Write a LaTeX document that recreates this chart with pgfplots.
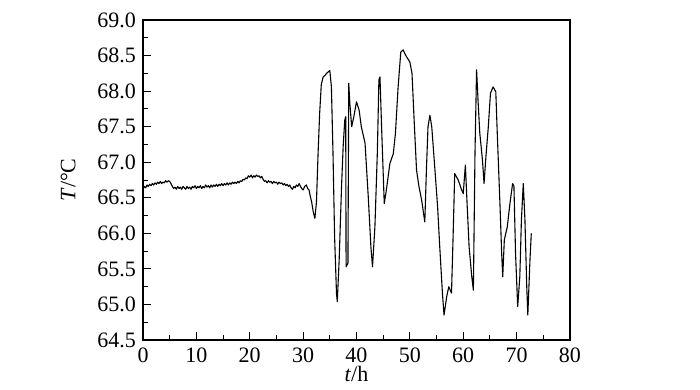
\documentclass[border=0pt]{standalone}
\usepackage{fontspec}
\setmainfont{Liberation Serif}
\usepackage{pgfplots}
\pgfplotsset{compat=1.18}
\begin{document}
\begin{tikzpicture}
\useasboundingbox (-71.5pt,-25pt) rectangle (278.5pt,170pt);
\begin{axis}[
  at={(0,0)}, anchor=south west,
  scale only axis, width=213.5pt, height=160pt,
  xmin=0, xmax=80, ymin=64.5, ymax=69.0,
  xtick={0,10,...,80}, ytick={64.5,65,...,69},
  minor x tick num=1, minor y tick num=1,
  xtick pos=bottom, ytick pos=left,
  tick align=inside,
  major tick length=4pt, minor tick length=2.5pt,
  axis line style={line width=0.6pt},
  every tick/.style={line width=0.5pt, black},
  /pgf/number format/assume math mode=true,
  yticklabel style={/pgf/number format/.cd, fixed, fixed zerofill, precision=1},
  ticklabel style={font=\fontsize{11}{13}\selectfont},
  label style={font=\fontsize{11}{13}\selectfont},
  xticklabel style={yshift=-0.5pt},
  xlabel={\textit{t}/h},
  ylabel={\textit{T}/°\kern-0.05em C},
  xlabel style={yshift=5pt},
  ylabel style={yshift=4pt},
]
\addplot[black, line width=0.55pt, line join=round] coordinates {
(0,66.62) (0.25,66.66) (0.5,66.64) (0.75,66.68) (1,66.66) (1.25,66.69) (1.5,66.67) (1.75,66.70)
(2,66.68) (2.25,66.71) (2.5,66.69) (2.75,66.72) (3,66.70) (3.25,66.73) (3.5,66.70) (3.75,66.72)
(4,66.71) (4.25,66.74) (4.5,66.72) (4.75,66.74) (5,66.73) (5.25,66.70) (5.5,66.66) (5.75,66.63)
(6,66.65) (6.25,66.62) (6.5,66.66) (6.75,66.63) (7,66.65) (7.25,66.62) (7.5,66.66) (7.75,66.64)
(8,66.62) (8.25,66.66) (8.5,66.63) (8.75,66.65) (9,66.62) (9.25,66.66) (9.5,66.64) (9.75,66.67)
(10,66.63) (10.25,66.66) (10.5,66.64) (10.75,66.67) (11,66.63) (11.25,66.66) (11.5,66.64) (11.75,66.68)
(12,66.65) (12.25,66.67) (12.5,66.64) (12.75,66.68) (13,66.65) (13.25,66.68) (13.5,66.66) (13.75,66.69)
(14,66.66) (14.25,66.69) (14.5,66.67) (14.75,66.70) (15,66.67) (15.25,66.70) (15.5,66.68) (15.75,66.71)
(16,66.68) (16.25,66.71) (16.5,66.69) (16.75,66.72) (17,66.70) (17.25,66.72) (17.5,66.70) (17.75,66.73)
(18,66.71) (18.25,66.74) (18.5,66.73) (18.75,66.76) (19,66.75) (19.25,66.78) (19.5,66.77) (19.75,66.81)
(20,66.79) (20.25,66.82) (20.5,66.78) (20.75,66.81) (21,66.79) (21.25,66.82) (21.5,66.80) (21.75,66.81)
(22,66.78) (22.25,66.80) (22.5,66.76) (22.75,66.73) (23,66.74) (23.25,66.71) (23.5,66.74) (23.75,66.72)
(24,66.73) (24.25,66.70) (24.5,66.73) (24.75,66.71) (25,66.72) (25.25,66.69) (25.5,66.72) (25.75,66.70)
(26,66.71) (26.25,66.68) (26.5,66.70) (26.75,66.67) (27,66.69) (27.25,66.66) (27.5,66.68) (27.75,66.64)
(28,66.62) (28.25,66.66) (28.5,66.64) (28.75,66.68) (29,66.66) (29.25,66.70) (29.5,66.66) (29.75,66.63)
(30,66.61) (30.3,66.66) (30.6,66.68) (30.85,66.63) (31.1,66.61) (31.35,66.52) (31.6,66.44) (31.9,66.30)
(32.2,66.21) (32.5,66.44) (32.8,67.12) (33.1,67.69) (33.4,68.09) (33.75,68.20) (34.1,68.22) (34.4,68.25)
(34.7,68.27) (35.0,68.29) (35.3,68.06) (35.6,67.12) (35.9,65.95) (36.25,65.16) (36.4,65.04)
(36.75,65.62) (37.2,66.66) (37.5,67.22) (37.8,67.59) (37.98,67.64) (38.05,65.53) (38.4,65.58)
(38.55,68.11) (38.75,67.83) (39.1,67.50) (39.5,67.64) (40.0,67.85) (40.5,67.73) (40.9,67.50)
(41.6,67.27) (42.2,66.52) (42.7,65.81) (43.0,65.53) (43.45,66.09) (43.9,67.12) (44.2,68.16)
(44.4,68.20) (44.7,67.50) (45.2,66.42) (45.6,66.61) (46.25,66.98) (46.9,67.12) (47.3,67.41)
(47.8,68.06) (48.3,68.55) (48.75,68.58) (49.1,68.52) (49.4,68.48) (50.0,68.41) (50.4,68.25)
(50.8,67.59) (51.25,66.89) (51.7,66.66) (52.2,66.47) (52.8,66.16) (53.1,66.89) (53.4,67.50)
(53.75,67.66) (54.1,67.50) (54.7,66.89) (55.2,66.37) (55.6,65.81) (56.1,65.16) (56.4,64.85)
(56.9,65.11) (57.3,65.25) (57.8,65.16) (58.1,65.95) (58.4,66.84) (59.06,66.75) (59.7,66.61)
(60.0,66.56) (60.4,66.96) (60.75,66.37) (61.1,65.81) (61.6,65.39) (61.9,65.20) (62.2,67.12)
(62.5,68.30) (62.8,67.83) (63.1,67.41) (63.6,67.03) (63.9,66.70) (64.25,67.08) (64.7,67.50)
(65.1,67.97) (65.6,68.06) (66.1,67.99) (66.4,67.36) (66.9,66.37) (67.2,65.72) (67.4,65.39)
(67.7,65.91) (68.25,66.09) (68.75,66.42) (69.25,66.70) (69.5,66.66) (69.8,65.72) (70.2,64.97)
(70.6,65.39) (70.9,66.19) (71.25,66.70) (71.56,66.19) (71.9,65.25) (72.1,64.85) (72.5,65.62)
(72.75,66.00)
};
\end{axis}
\end{tikzpicture}
\end{document}
